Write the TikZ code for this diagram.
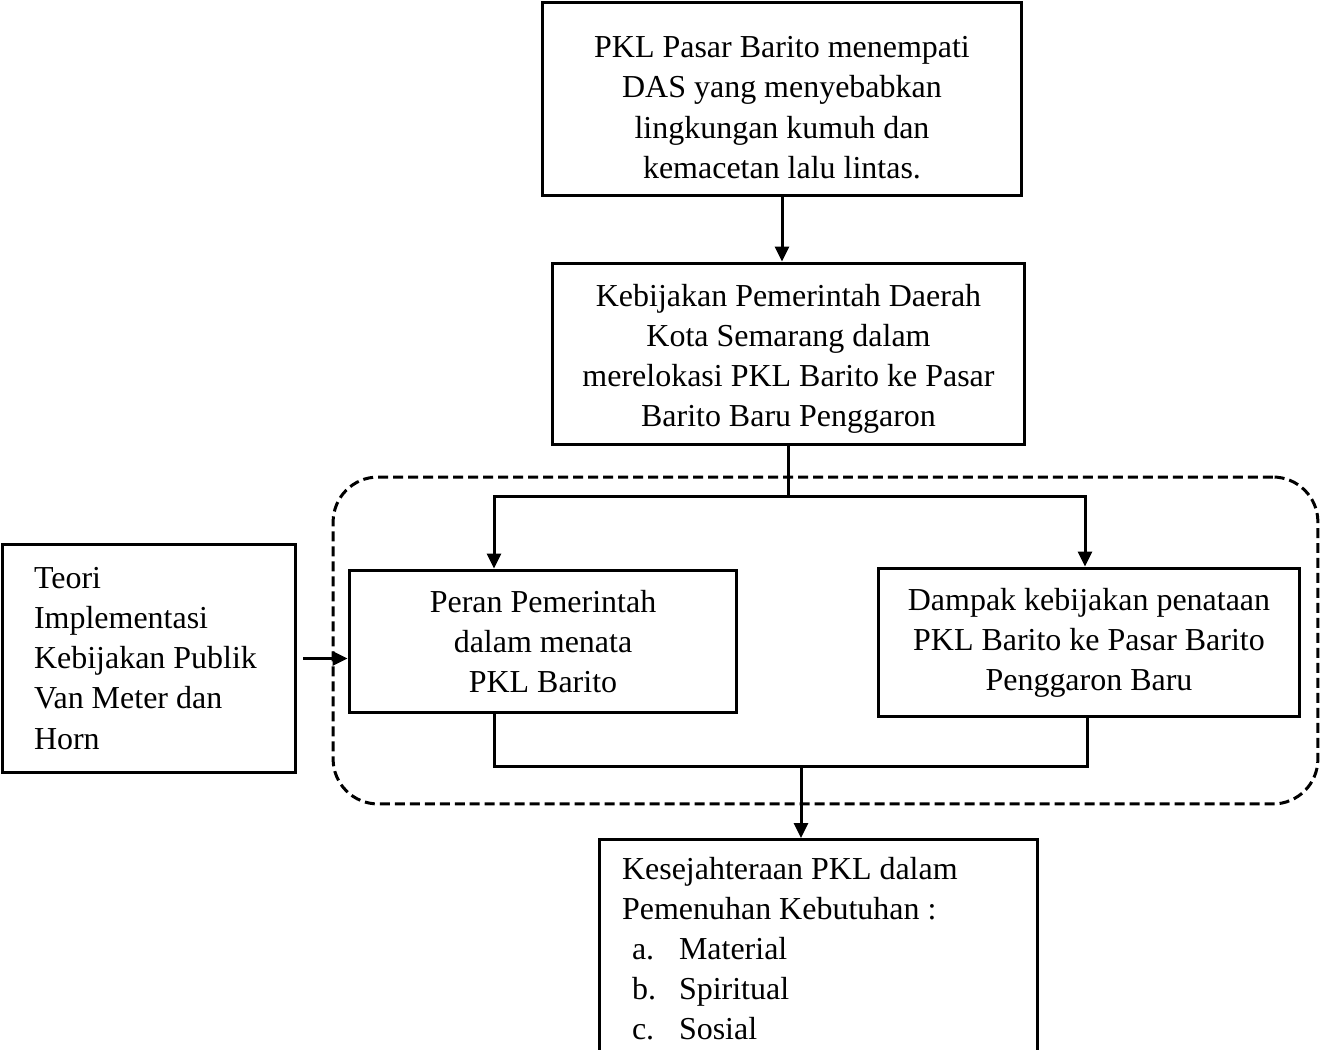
\documentclass[tikz,border=0pt]{standalone}
\usepackage{fontspec}
\setmainfont{Liberation Serif}
\usetikzlibrary{arrows.meta}
\tikzset{
  box/.style={draw=black, line width=0.06cm, align=center, inner sep=0pt},
  leftbox/.style={draw=black, line width=0.06cm, align=flush left},
  link/.style={line width=0.06cm},
  arrow/.style={line width=0.06cm, -{Triangle[length=0.3cm,width=0.28cm]}},
  twoarrow/.style={line width=0.06cm, {Triangle[length=0.3cm,width=0.28cm]}-{Triangle[length=0.3cm,width=0.28cm]}},
  groupframe/.style={draw=black, line width=0.06cm, dash pattern=on 0.2cm off 0.1cm, rounded corners=0.9cm, minimum width=19.7cm, minimum height=6.54cm}
}
\begin{document}
\begin{tikzpicture}[x=0.02cm, y=-0.02cm, every node/.style={font=\fontsize{18.2}{22.8}\selectfont}]
	\useasboundingbox (0,0) rectangle (1323,1050);
	\clip (0,0) rectangle (1323,1050);
	\node [groupframe] (grp) at (825.5,640.5) {};
	\node [box, minimum width=9.6cm, minimum height=3.88cm] (das) at (782,99) {\rule{0pt}{0.77cm}PKL Pasar Barito menempati\\DAS yang menyebabkan\\lingkungan kumuh dan\\kemacetan lalu lintas.};
	\node [box, minimum width=9.46cm, minimum height=3.64cm] (pol) at (788.5,354) {\rule{0pt}{0.65cm}Kebijakan Pemerintah Daerah\\Kota Semarang dalam\\merelokasi PKL Barito ke Pasar\\Barito Baru Penggaron};
	\node [box, minimum width=7.76cm, minimum height=2.86cm] (peran) at (543,641.5) {Peran Pemerintah\\dalam menata\\PKL Barito};
	\node [box, minimum width=8.44cm, minimum height=2.98cm] (dampak) at (1089,642.5) {Dampak kebijakan penataan\\PKL Barito ke Pasar Barito\\Penggaron Baru};
	\node [leftbox, text width=4.6cm, inner xsep=0.64cm, inner ysep=0pt, minimum height=4.58cm] (teori) at (149,658.5) {Teori\\Implementasi\\Kebijakan Publik\\Van Meter dan\\Horn};
	\node [leftbox, anchor=north, text width=7.86cm, inner xsep=0.46cm, inner ysep=0.36cm] (kes) at (818.5,838) {Kesejahteraan PKL dalam\\Pemenuhan Kebutuhan :\\
		\hspace*{0.2cm}\makebox[0.94cm][l]{a.}Material\\
		\hspace*{0.2cm}\makebox[0.94cm][l]{b.}Spiritual\\
		\hspace*{0.2cm}\makebox[0.94cm][l]{c.}Sosial\rule[-0.8cm]{0pt}{0.8cm}};
	\coordinate (forkL) at (494,497);
	\coordinate (forkR) at (1085,497);
	\coordinate (joinL) at (494,767);
	\coordinate (joinR) at (1087,767);
	\coordinate (join) at (801,767);
	\draw [arrow] (das.south) -- (das.south |- pol.north);
	\draw [link] (pol.south) -- (pol.south |- forkL);
	\draw [twoarrow] (forkL |- peran.north) -- (forkL) -- (forkR) -- (forkR |- dampak.north);
	\draw [link] (joinL |- peran.south) -- (joinL) -- (joinR) -- (joinR |- dampak.south);
	\draw [arrow] (join) -- (join |- kes.north);
	\draw [arrow] ([xshift=0.12cm]teori.east) -- (peran.west |- teori.east);
\end{tikzpicture}
\end{document}
